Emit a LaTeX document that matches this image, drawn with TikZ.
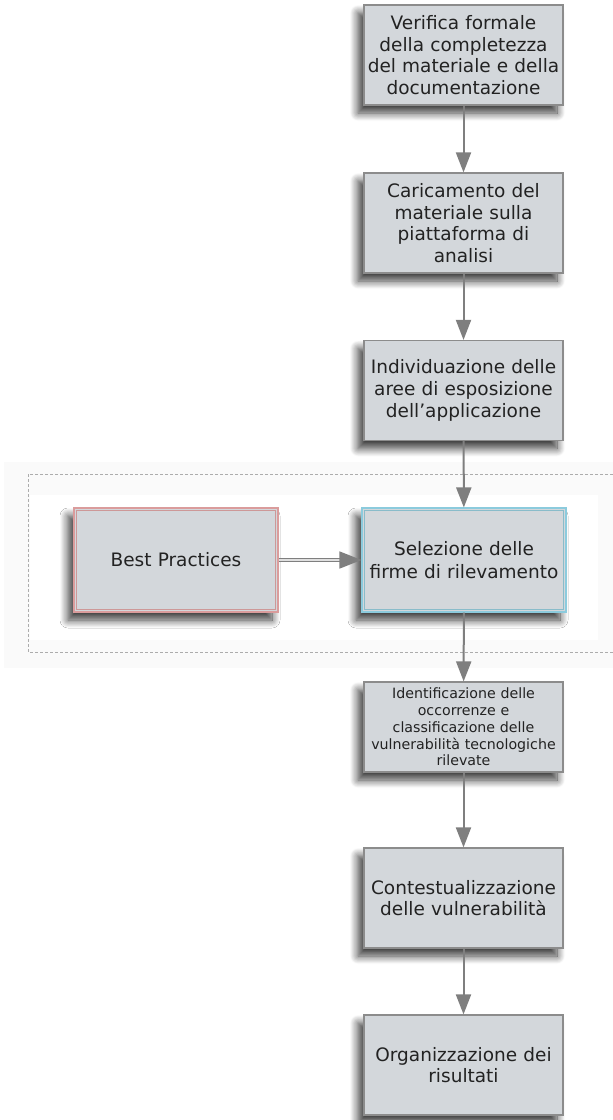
\documentclass[tikz,border=0pt]{standalone}
\usepackage{fontspec}
\setmainfont{DejaVu Sans}
\usetikzlibrary{arrows.meta,shadows.blur}
\definecolor{boxfill}{HTML}{D3D7DB}
\definecolor{boxline}{HTML}{8C8C8C}
\definecolor{arrowgray}{HTML}{7F7F7F}
\definecolor{textdark}{HTML}{222222}
\definecolor{redframe}{HTML}{DA9C9C}
\definecolor{cyanframe}{HTML}{8CCBDD}
\tikzset{
  stepbox/.style={draw=boxline, line width=1.2pt, fill=boxfill,
    minimum width=199pt, minimum height=100pt, inner sep=1pt,
    text width=197pt, align=center, text=textdark,
    font=\fontsize{18.5pt}{21.7pt}\selectfont,
    blur shadow={shadow xshift=-6pt, shadow yshift=-8pt,
      shadow blur radius=8pt, shadow blur steps=12, shadow opacity=78}},
  flow/.style={draw=arrowgray, line width=2pt,
    -{Triangle[length=20pt,width=15pt]}},
  framebox/.style={stepbox, minimum width=204pt, minimum height=104pt,
    line width=1.1pt},
  innerframe/.style={line width=1.1pt},
}
\begin{document}
\begin{tikzpicture}[x=1pt,y=-1pt]
\useasboundingbox (0,0) rectangle (613,1120);
\clip (0,0) rectangle (613,1120);

% faint haze around the grouping frame
\fill[gray!4] (4,462) rectangle (613,668);
\fill[white] (30,495) rectangle (598,640);
\draw[gray!65, line width=0.8pt, dash pattern=on 3pt off 2pt]
  (28,474) rectangle (640,652);

% main flow
\node[stepbox] (b1) at (463.5,55)
  {Verifica formale\\della completezza\\del materiale e della\\documentazione};
\node[stepbox] (b2) at (463.5,223)
  {Caricamento del\\materiale sulla\\piattaforma di\\analisi};
\node[stepbox] (b3) at (463.5,390.5)
  {Individuazione delle\\aree di esposizione\\dell'applicazione};
\node[framebox, draw=cyanframe,
      font=\fontsize{18.5pt}{22.7pt}\selectfont] (sel) at (464,560)
  {Selezione delle\\firme di rilevamento};
\node[framebox, draw=redframe] (bp) at (176,560)
  {Best Practices};
\node[stepbox, minimum height=90pt,
      font=\fontsize{14.2pt}{16.7pt}\selectfont] (b5) at (463.5,727)
  {Identificazione delle\\occorrenze e\\classificazione delle\\vulnerabilità tecnologiche\\rilevate};
\node[stepbox] (b6) at (463.5,898)
  {Contestualizzazione\\delle vulnerabilità};
\node[stepbox] (b7) at (463.5,1065)
  {Organizzazione dei\\risultati};

% inner lines of the double frames
\draw[innerframe, cyanframe!80!gray]
  ([xshift=3pt,yshift=3pt]sel.south west) rectangle ([xshift=-3pt,yshift=-3pt]sel.north east);
\draw[innerframe, redframe!85!gray]
  ([xshift=3pt,yshift=3pt]bp.south west) rectangle ([xshift=-3pt,yshift=-3pt]bp.north east);

% connectors
\draw[flow] (b1) -- (b2);
\draw[flow] (b2) -- (b3);
\draw[flow] (b3) -- (sel);
\draw[flow] (sel) -- (b5);
\draw[flow] (b5) -- (b6);
\draw[flow] (b6) -- (b7);
\draw[draw=arrowgray, line width=1.5pt, double=gray!25, double distance=1.5pt,
  -{Triangle[length=22pt,width=17pt,fill=arrowgray]}] (bp) -- (sel);
\end{tikzpicture}
\end{document}
